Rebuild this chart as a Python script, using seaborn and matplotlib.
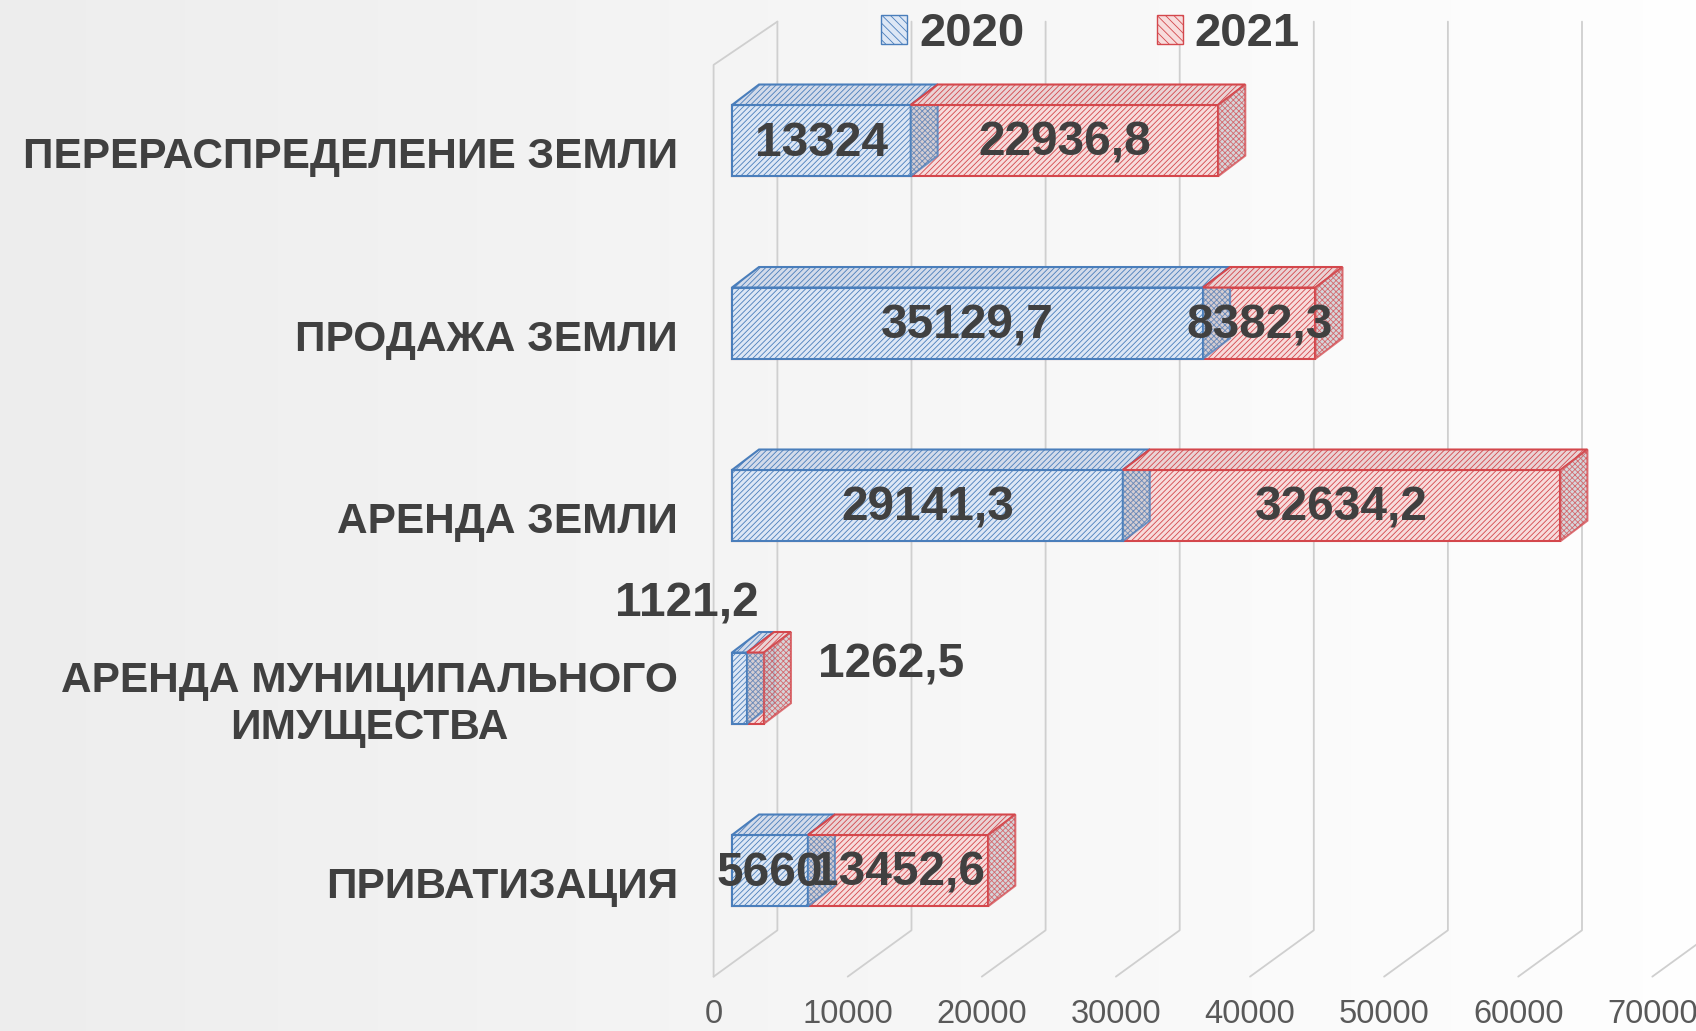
import numpy as np
import matplotlib
matplotlib.use("Agg")
import matplotlib.pyplot as plt
from matplotlib.patches import Polygon, Patch
import seaborn as sns

# data
categories = ["ПЕРЕРАСПРЕДЕЛЕНИЕ ЗЕМЛИ", "ПРОДАЖА ЗЕМЛИ", "АРЕНДА ЗЕМЛИ",
              "АРЕНДА МУНИЦИПАЛЬНОГО\nИМУЩЕСТВА", "ПРИВАТИЗАЦИЯ"]
values_2020 = [13324, 35129.7, 29141.3, 1121.2, 5660]
values_2021 = [22936.8, 8382.3, 32634.2, 1262.5, 13452.6]
years = ["2020", "2021"]
x_ticks = [0, 10000, 20000, 30000, 40000, 50000, 60000, 70000]

sns.set_style("white")
plt.rcParams["font.family"] = ["Liberation Sans", "DejaVu Sans"]
plt.rcParams["hatch.linewidth"] = 0.6

BLUE, BLUE_FACE, BLUE_TOP = "#4a7ebb", "#dde7f5", "#d3dbea"
RED, RED_FACE, RED_TOP = "#d4474c", "#f7dcdc", "#ead3d5"
TXT = "#404040"

# geometry of the fake 3d scene (pixel -> data)
PX = 1000 / 13.41          # data units per pixel along x
CAT = 182.5                # pixels per category
DX, DY = 27 * PX, 20.5 / CAT
WF, WB = -18.4 * PX, 45.4 * PX   # front / back wall x offsets
Y_TOP_F, Y_TOP_B = -0.415, -0.652
Y_BOT_F, Y_BOT_B = 4.581, 4.327
HALF = 0.195

fig = plt.figure(figsize=(16.96, 10.31), dpi=100)
bg = fig.add_axes([0, 0, 1, 1])
grad = np.linspace(0.93, 0.998, 256)
img = np.dstack([grad, grad, grad]).repeat(2, axis=0)
bg.imshow(img, aspect="auto", extent=[0, 1, 0, 1])
bg.axis("off")

ax = fig.add_axes([0, 0, 1, 1])
totals = [a + b for a, b in zip(values_2020, values_2021)]

# walls and gridlines
gl = dict(color="#cfcfcf", lw=1.3, zorder=0)
for t in x_ticks:
    ax.plot([t + WB, t + WB, t + WF], [Y_TOP_B, Y_BOT_B, Y_BOT_F], **gl)
    ax.text(t + WF, 4.79, str(t), ha="center", va="center", fontsize=23.5, color="#595959")
ax.plot([WB, WF, WF], [Y_TOP_B, Y_TOP_F, Y_BOT_F], **gl)

# front faces
sns.barplot(x=totals, y=categories, orient="h", color=RED_FACE, saturation=1,
            width=2 * HALF, edgecolor=RED, linewidth=1.5, hatch="//////", ax=ax, zorder=2)
sns.barplot(x=values_2020, y=categories, orient="h", color=BLUE_FACE, saturation=1,
            width=2 * HALF, edgecolor=BLUE, linewidth=1.5, hatch="//////", ax=ax, zorder=3)


def box_faces(x0, x1, yc, face, top, edge, z):
    yt, yb = yc - HALF, yc + HALF
    ax.add_patch(Polygon([(x0, yt), (x1, yt), (x1 + DX, yt - DY), (x0 + DX, yt - DY)],
                         closed=True, facecolor=top, edgecolor=edge, lw=1.5,
                         hatch="//////", zorder=z))
    ax.add_patch(Polygon([(x1, yt), (x1 + DX, yt - DY), (x1 + DX, yb - DY), (x1, yb)],
                         closed=True, facecolor="#c9c9cf", edgecolor=edge, lw=1.5,
                         hatch="xxxxxx", alpha=0.75, zorder=z))


for i in range(len(categories)):
    a, b = values_2020[i], values_2021[i]
    box_faces(0, a, i, BLUE_FACE, BLUE_TOP, BLUE, 4)
    box_faces(a, a + b, i, RED_FACE, RED_TOP, RED, 5)


def fmt(v):
    return f"{v:g}".replace(".", ",")


lab = dict(fontsize=34.5, fontweight="bold", color=TXT, ha="center", va="center", zorder=10)
for i in range(len(categories)):
    a, b = values_2020[i], values_2021[i]
    if i == 3:
        ax.text(-3400, i - 0.46, fmt(a), **lab)
        ax.text(11900, i - 0.124, fmt(b), **lab)
    else:
        ax.text(a / 2, i + 0.015, fmt(a), **lab)
        ax.text(a + b / 2, i + 0.015, fmt(b), **lab)
    ax.text(-4030, i + 0.09, categories[i], fontsize=30.5, fontweight="bold", color=TXT,
            ha="right", va="center", multialignment="center", linespacing=1.2)

handles = [Patch(facecolor=BLUE_FACE, edgecolor=BLUE, hatch="\\\\\\\\"),
           Patch(facecolor=RED_FACE, edgecolor=RED, hatch="\\\\\\\\")]
leg = ax.legend(handles, years, loc="center", bbox_to_anchor=(0.643, 0.967),
                bbox_transform=fig.transFigure, ncol=2, frameon=False,
                prop={"weight": "bold", "size": 34}, labelcolor=TXT,
                handlelength=0.55, handleheight=0.55, handletextpad=0.25, columnspacing=2.8)

ax.set_xlim(-732 * PX, (1696 - 732) * PX)
ax.set_ylim((1031 - 140.6) / CAT, -140.6 / CAT)
ax.axis("off")

fig.savefig("out.png", dpi=100)
